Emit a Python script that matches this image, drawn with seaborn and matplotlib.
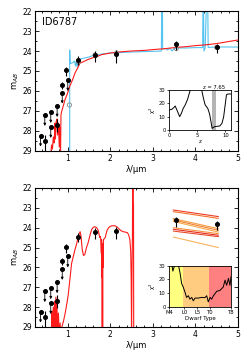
import matplotlib
matplotlib.use('Agg')
import matplotlib.pyplot as plt
from matplotlib.ticker import AutoMinorLocator, MultipleLocator
import seaborn as sns

# photometry (same in both panels)
det_wl = [0.46, 0.75, 0.87, 0.96, 1.24, 1.64, 2.13, 3.55, 4.50]
det_mag = [28.48, 27.70, 25.68, 24.95, 24.47, 24.22, 24.17, 23.63, 23.82]
det_err_lo = [0.30, 0.30, 0.15, 0.15, 0.20, 0.22, 0.22, 0.15, 0.17]
det_err_hi = [0.80, 0.35, 0.20, 0.30, 0.25, 0.33, 0.41, 0.32, 0.28]
lim_wl = [0.36, 0.46, 0.60, 0.60, 0.75, 0.87, 1.00]
lim_mag = [28.23, 27.20, 27.05, 27.80, 26.75, 26.08, 25.45]
model_wl = [1.04, 1.25, 1.64, 2.15, 3.55, 4.50]
model_mag = [26.70, 24.55, 24.20, 24.10, 23.88, 23.82]

# high-z galaxy template (blue)
hz_wl = [1.045, 1.045, 1.055, 1.08, 1.12, 1.16, 1.18, 1.20, 1.22, 1.24, 1.30, 1.40,
         1.50, 1.60, 1.70, 1.80, 2.00, 2.20, 2.50, 2.80, 3.00, 3.20, 3.21, 3.225,
         3.23, 3.30, 3.35, 3.40, 3.45, 3.50, 3.60, 3.80, 4.00, 4.17, 4.18, 4.19,
         4.20, 4.23, 4.26, 4.29, 4.30, 4.50, 5.00]
hz_mag = [29.5, 23.95, 24.60, 24.62, 24.58, 24.50, 24.75, 24.55, 24.80, 24.50, 24.40, 24.35,
          24.30, 24.22, 24.20, 24.15, 24.10, 24.08, 24.05, 24.03, 24.02, 24.00, 21.5, 21.5,
          23.90, 23.88, 23.95, 23.85, 24.00, 23.88, 23.85, 23.85, 23.83, 23.83, 21.5, 21.5,
          24.00, 23.85, 21.5, 21.5, 23.82, 23.80, 23.80]

# low-z galaxy template (red)
lz_wl = [0.58, 0.62, 0.64, 0.66, 0.68, 0.70, 0.71, 0.73, 0.75, 0.76, 0.78, 0.80, 0.81,
         0.83, 0.84, 0.86, 0.90, 0.94, 0.98, 1.02, 1.05, 1.08, 1.12, 1.17, 1.22, 1.29,
         1.35, 1.48, 1.60, 1.68, 1.80, 2.00, 2.20, 2.50, 2.80, 3.00, 3.30, 3.50, 3.80,
         4.00, 4.20, 4.50, 4.80, 5.00]
lz_mag = [29.5, 28.7, 28.9, 28.3, 28.6, 27.6, 28.4, 27.5, 27.4, 28.2, 27.6, 28.8, 27.8,
          29.2, 27.2, 27.0, 26.7, 26.4, 26.2, 25.95, 25.75, 25.6, 25.4, 25.1, 24.9, 24.6,
          24.55, 24.42, 24.33, 24.28, 24.18, 24.10, 24.05, 24.00, 23.97, 23.93, 23.88, 23.83, 23.78,
          23.73, 23.70, 23.63, 23.52, 23.45]

# best-fit brown dwarf spectrum (red)
bd_wl = [0.62, 0.63, 0.64, 0.66, 0.67, 0.69, 0.70, 0.72, 0.73, 0.745, 0.76, 0.78, 0.80,
         0.82, 0.84, 0.86, 0.90, 0.94, 0.98, 1.01, 1.05, 1.09, 1.13, 1.17, 1.21, 1.24,
         1.27, 1.29, 1.31, 1.34, 1.37, 1.40, 1.44, 1.48, 1.52, 1.56, 1.60, 1.64, 1.68,
         1.72, 1.75, 1.77, 1.79, 1.795, 1.80, 1.805, 1.81, 1.815, 1.82, 1.825, 1.83, 1.84,
         1.88, 1.92, 1.96, 2.00, 2.05, 2.10, 2.15, 2.20, 2.25, 2.30, 2.35, 2.40, 2.43,
         2.46, 2.48, 2.49, 2.50, 2.51, 2.52, 2.525, 2.535, 2.54, 2.545, 2.55]
bd_mag = [29.5, 28.2, 29.5, 28.0, 29.5, 27.7, 29.5, 27.5, 29.5, 27.6, 29.5, 28.3, 29.5,
          28.8, 29.5, 29.0, 28.7, 28.3, 27.8, 27.4, 26.6, 25.8, 25.45, 25.1, 24.8, 24.5,
          24.3, 24.2, 24.4, 25.1, 25.4, 25.35, 25.0, 24.75, 24.4, 24.1, 23.98, 23.95, 24.0,
          24.15, 24.5, 24.45, 25.3, 24.6, 26.5, 24.8, 29.5, 25.2, 29.5, 24.8, 26.0, 24.6,
          24.5, 24.15, 24.0, 23.93, 23.9, 23.9, 23.95, 24.05, 24.15, 24.2, 24.22, 24.25, 24.35,
          24.6, 25.2, 26.5, 29.5, 26.0, 24.5, 21.5, 21.5, 23.0, 22.8, 29.5]

# brown dwarf model IRAC colours
irac_wl = [3.48, 4.54]
irac_start = [23.11, 23.19, 23.54, 23.61, 23.68, 24.00, 24.08, 24.17, 24.47]
irac_end = [23.44, 23.53, 24.05, 24.13, 24.22, 24.30, 24.38, 24.45, 25.00]
irac_colors = ['#ee3b1f', '#f4722c', '#f59a3c', '#f08030', '#f7a848', '#f5903a',
               '#e62a1e', '#ea4a2c', '#f8b45a']

# chi2 vs redshift
z_grid = [0, 0.5, 0.9, 1.1, 1.4, 1.9, 2.2, 2.5, 2.9, 3.3, 3.7, 3.9, 5.6, 5.8, 6.1, 6.4,
          6.9, 7.2, 7.5, 7.65, 8.1, 8.6, 9.0, 9.4, 9.7, 10.0, 10.2, 10.5, 11.0]
chi2_z = [15, 15.5, 17, 18, 15, 10, 12.5, 16, 19, 23, 29, 33, 33, 30, 24, 19,
          16, 12, 5, 1.2, 2.5, 2.8, 3, 5, 10, 20, 26.5, 27, 27]

# chi2 vs dwarf type (M4 = 0 ... T8 = 24)
sp_type = [0, 1, 1.5, 2.3, 3, 3.6, 4.3, 4.9, 5.5, 6.2, 6.8, 7.5, 8.1, 8.8, 9.4, 10.1,
           11.4, 12.6, 13.9, 14.6, 15.2, 15.9, 16.5, 17.2, 18.5, 19.7, 21, 21.7, 22.3,
           23, 23.6, 24]
chi2_sp = [36, 32, 26, 31, 34, 31, 24.4, 16.9, 14.4, 10.6, 6.8, 8, 5.5, 6.8, 4.3, 6.3,
           6.3, 6.8, 6.6, 8, 3.5, 6.8, 5.5, 8, 11.3, 11.8, 14.4, 19.4, 15.6, 20.7, 15.6, 22]
sp_ticks = [0, 6, 11, 16, 24]
sp_labels = ['M4', 'L0', 'L5', 'T0', 'T8']

sns.set_style('ticks', {'axes.edgecolor': 'black', 'xtick.color': 'black',
                        'ytick.color': 'black', 'text.color': 'black',
                        'axes.labelcolor': 'black'})
plt.rcParams['font.family'] = ['DejaVu Sans']

BLUE = '#56c4f0'
RED = '#ff1a1a'


def style_main(ax):
    ax.set_xlim(0.23, 5)
    ax.set_ylim(29, 22)
    ax.xaxis.set_major_locator(MultipleLocator(1))
    ax.xaxis.set_minor_locator(AutoMinorLocator(5))
    ax.yaxis.set_major_locator(MultipleLocator(1))
    ax.yaxis.set_minor_locator(AutoMinorLocator(2))
    ax.tick_params(which='both', direction='in', top=True, right=True,
                   labelsize=5.5, width=0.6, pad=2)
    ax.tick_params(which='major', length=3)
    ax.tick_params(which='minor', length=1.6)
    for s in ax.spines.values():
        s.set_linewidth(0.8)
    ax.set_xlabel('λ/μm', fontsize=6, labelpad=1.5)
    ax.set_ylabel('m$_{AB}$', fontsize=6, labelpad=1)


def draw_phot(ax):
    ax.errorbar(det_wl, det_mag, yerr=[det_err_lo, det_err_hi], fmt='o', color='k',
                ms=2.6, elinewidth=0.8, capsize=0, zorder=5)
    ax.plot(lim_wl, lim_mag, 'o', color='k', ms=2.6, zorder=5)
    for x, y in zip(lim_wl, lim_mag):
        ax.annotate('', xy=(x, y + 0.55), xytext=(x, y),
                    arrowprops=dict(arrowstyle='-|>', color='k', lw=0.6,
                                    mutation_scale=3.5, shrinkA=0, shrinkB=0),
                    zorder=5)


def style_inset(ax):
    ax.tick_params(which='both', labelsize=3.8, length=1.5, width=0.5, pad=1)
    for s in ax.spines.values():
        s.set_linewidth(0.6)
    ax.set_ylim(0, 30)
    ax.set_yticks([0, 10, 20, 30])
    ax.set_ylabel('χ$^2$', fontsize=4, labelpad=0.5)


fig = plt.figure(figsize=(2.49, 3.62), dpi=100)

# ---- top panel: galaxy fits
ax1 = fig.add_axes([0.1406, 0.5829, 0.815, 0.3867])
sns.lineplot(x=hz_wl, y=hz_mag, sort=False, estimator=None, color=BLUE, lw=0.8, ax=ax1)
sns.lineplot(x=lz_wl, y=lz_mag, sort=False, estimator=None, color=RED, lw=0.8, ax=ax1)
ax1.scatter(model_wl, model_mag, s=9, facecolor='none', edgecolor='#888888', lw=0.6, zorder=4)
draw_phot(ax1)
style_main(ax1)
ax1.text(0.035, 0.96, 'ID6787', transform=ax1.transAxes, fontsize=7, va='top', ha='left')

in1 = fig.add_axes([0.6787, 0.6409, 0.249, 0.1105])
in1.axvspan(7.55, 8.35, color='#b4b4b4', lw=0)
sns.lineplot(x=z_grid, y=chi2_z, sort=False, estimator=None, color='k', lw=0.7, ax=in1)
in1.set_xlim(0, 11)
in1.set_xticks([0, 5, 10])
style_inset(in1)
in1.set_xlabel('z', fontsize=4, labelpad=0.5)
in1.text(7.95, 30.3, 'z = 7.65', fontsize=3.8, ha='center', va='bottom')

# ---- bottom panel: brown dwarf fit
ax2 = fig.add_axes([0.1406, 0.0967, 0.815, 0.384])
sns.lineplot(x=bd_wl, y=bd_mag, sort=False, estimator=None, color=RED, lw=0.8, ax=ax2)
for y0, y1, c in zip(irac_start, irac_end, irac_colors):
    sns.lineplot(x=irac_wl, y=[y0, y1], sort=False, estimator=None, color=c, lw=0.8, ax=ax2)
draw_phot(ax2)
style_main(ax2)

in2 = fig.add_axes([0.6787, 0.1528, 0.249, 0.1133])
in2.axvspan(-1, 5.5, color='#ffff80', lw=0)
in2.axvspan(5.5, 15.5, color='#ffcc80', lw=0)
in2.axvspan(15.5, 25, color='#ff8080', lw=0)
sns.lineplot(x=sp_type, y=chi2_sp, sort=False, estimator=None, color='k', lw=0.7, ax=in2)
in2.set_xlim(0, 24)
in2.set_xticks(sp_ticks)
in2.set_xticklabels(sp_labels)
style_inset(in2)
in2.set_xlabel('Dwarf Type', fontsize=4, labelpad=0.5)

fig.savefig('out.png', dpi=100)
